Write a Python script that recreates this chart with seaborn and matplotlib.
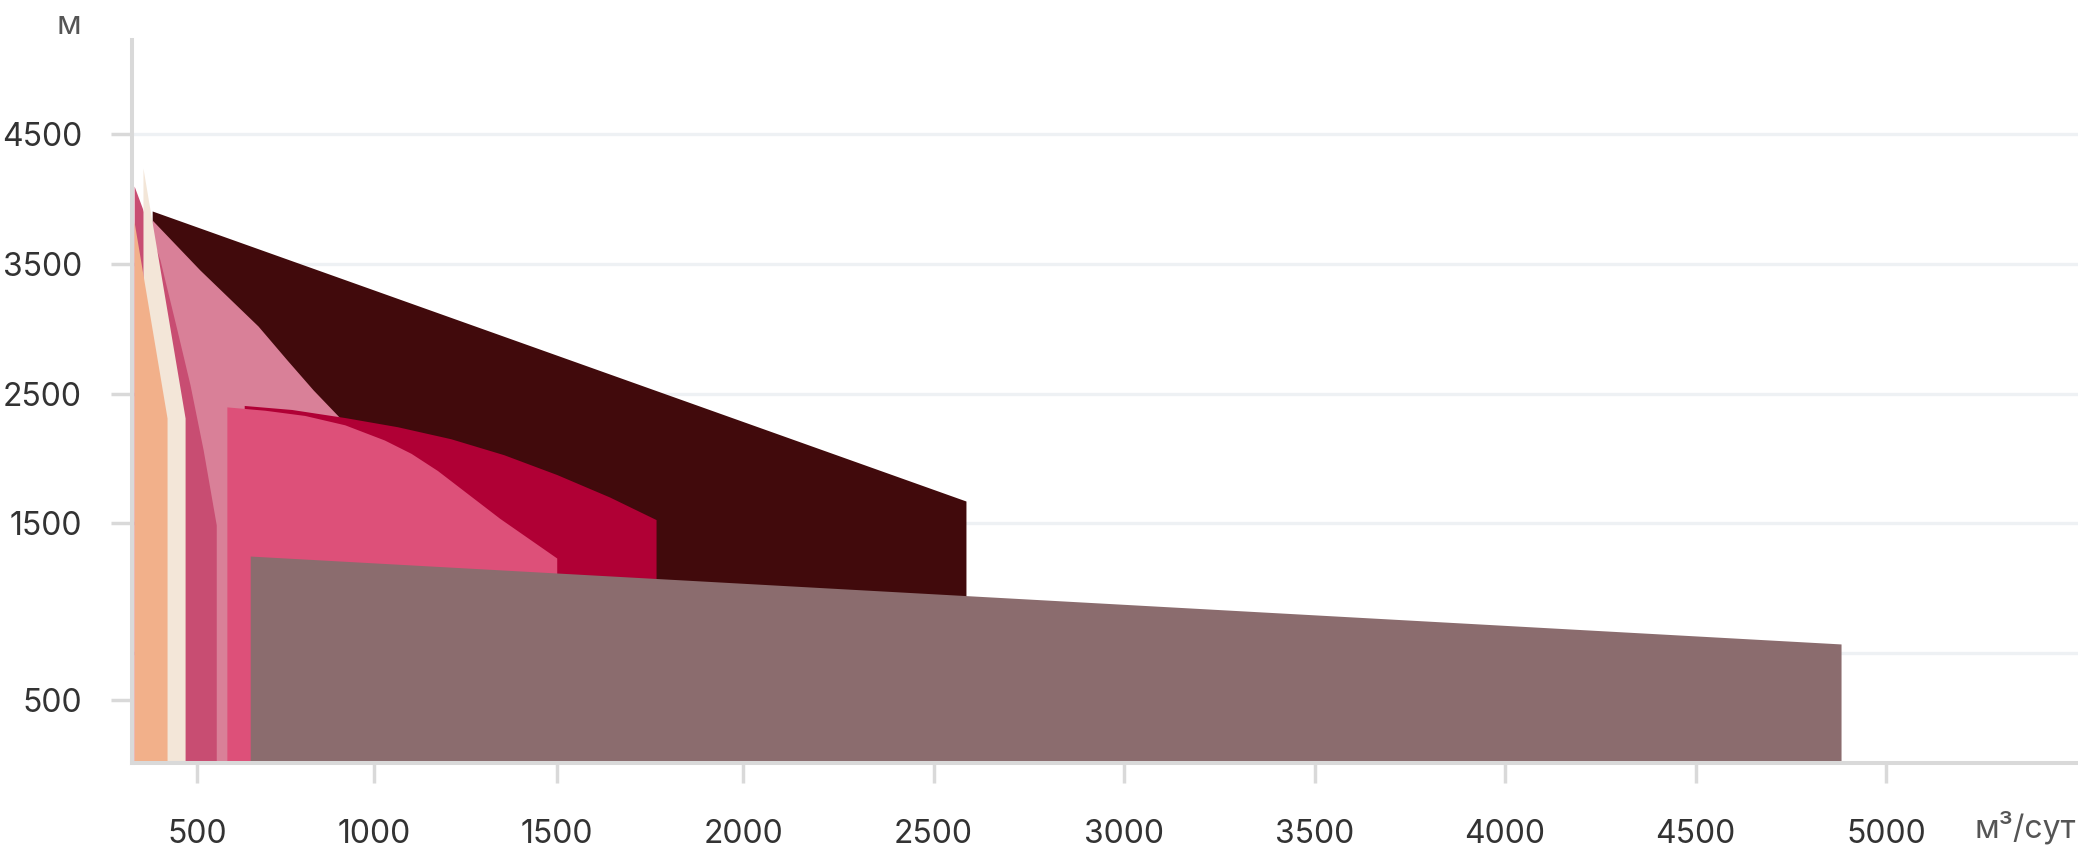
import numpy as np
import matplotlib
matplotlib.use("Agg")
import matplotlib.pyplot as plt
import seaborn as sns

# ---------------- data ----------------
maroon_x = [373, 2585]
maroon_y = [3907, 1673]

lightpink_x = [373, 508, 672, 754, 828, 904, 1126]
lightpink_y = [3837, 3452, 3021, 2759, 2528, 2312, 1604]

crimson_x = [633, 767, 917, 1064, 1209, 1354, 1499, 1641, 1766]
crimson_y = [2409, 2378, 2316, 2245, 2153, 2030, 1877, 1704, 1530]

pink_x = [584, 692, 804, 917, 1028, 1101, 1173, 1343, 1499]
pink_y = [2398, 2372, 2332, 2260, 2143, 2040, 1908, 1540, 1234]

mauve_x = [650, 4882]
mauve_y = [1249, 572]

darkpink_x = [322, 345, 395, 443, 480, 517, 554]
darkpink_y = [4099, 3930, 3530, 2991, 2567, 2067, 1489]

cream_x = [347, 466]
cream_y = [4238, 2312]

peach_x = [322, 415]
peach_y = [3822, 2312]

x_ticks = [500, 1000, 1500, 2000, 2500, 3000, 3500, 4000, 4500, 5000]
y_tick_labels = ["500", "1500", "2500", "3500", "4500"]
y_grid = [500, 1500, 2500, 3500, 4500]
x_unit = "м³/сут"
y_unit = "м"

# ---------------- styling ----------------
sns.set_theme(style="white")
FONT = ["Inter", "DejaVu Sans"]
plt.rcParams["font.family"] = FONT

W, H, DPI = 2078, 852, 100
fig = plt.figure(figsize=(W / DPI, H / DPI), dpi=DPI, facecolor="white")
ax = fig.add_axes([132 / W, (H - 763) / H, (W - 132) / W, (763 - 40) / H])
ax.set_facecolor("white")

# slightly non-uniform horizontal scale of the original chart
_kx = [0, 500, 1000, 1500, 2000, 5000, 10000]
_px = [20, 197, 374, 557, 743, 1886, 3791]


def _fwd(v):
    return np.interp(v, _kx, _px)


def _inv(p):
    return np.interp(p, _px, _kx)


ax.set_xscale("function", functions=(_fwd, _inv))
ax.set_xlim(316, 5504)
ax.set_ylim(-345, 5224)

BASE = -2000
layers = [
    (maroon_x, maroon_y, "#410a0c"),
    (lightpink_x, lightpink_y, "#d98098"),
    (crimson_x, crimson_y, "#b00035"),
    (pink_x, pink_y, "#dd5079"),
    (mauve_x, mauve_y, "#8b6c6e"),
    (darkpink_x, darkpink_y, "#c84d72"),
    (cream_x, cream_y, "#f3e6d8"),
    (peach_x, peach_y, "#f2b08a"),
]
for i, (xs, ys, col) in enumerate(layers):
    ax.fill_between(xs, ys, BASE, color=col, lw=0, zorder=1 + i * 0.01)

for g in y_grid:
    ax.axhline(g, color="#eef1f4", lw=2.4, zorder=0.5)

grey = "#d9d9d9"
for s in ["top", "right"]:
    ax.spines[s].set_visible(False)
for s in ["left", "bottom"]:
    ax.spines[s].set_color(grey)
    ax.spines[s].set_linewidth(2.9)
    ax.spines[s].set_zorder(3)

ax.set_xticks(x_ticks)
ax.set_xticklabels([str(v) for v in x_ticks])
ax.set_yticks([140, 1500, 2500, 3500, 4500])
ax.set_yticklabels(y_tick_labels)
ax.minorticks_off()
ax.tick_params(axis="x", length=14.4, width=2.5, color=grey, pad=26,
               labelsize=23, labelcolor="#333333", bottom=True, direction="out")
ax.tick_params(axis="y", length=15, width=2.5, color=grey, pad=21,
               labelsize=23, labelcolor="#333333", left=True, direction="out")
ax.grid(False)

fig.text(69 / W, 1 - 26 / H, y_unit, ha="center", va="center",
         fontsize=23, color="#555555", family=FONT)
fig.text(2025 / W, 1 - 828 / H, x_unit, ha="center", va="center",
         fontsize=23, color="#555555", family=FONT)

fig.savefig("out.png", dpi=DPI, facecolor="white")
